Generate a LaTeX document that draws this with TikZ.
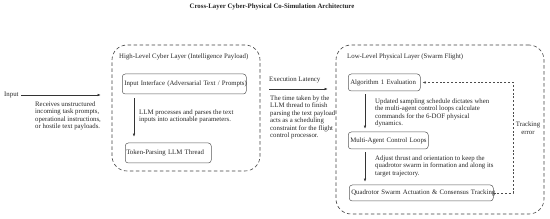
\documentclass[tikz,border=0pt]{standalone}
\usepackage{fontspec}
\setmainfont{Liberation Serif}
\usetikzlibrary{arrows.meta}
\begin{document}
\begin{tikzpicture}[x=1pt,y=-1pt,
  every node/.style={font=\fontsize{6.8}{7.5}\selectfont, text=black!85},
  layer/.style={draw=black!75, line width=0.6pt, dash pattern=on 3.5pt off 2.5pt, rounded corners=15pt, inner sep=0pt},
  stepbox/.style={draw=black!65, line width=0.5pt, rounded corners=3pt, inner xsep=2pt, inner ysep=0pt, align=left, anchor=west},
  txt/.style={inner sep=0pt, align=left, anchor=north west},
  arr/.style={draw=black!80, line width=0.5pt, -{Latex[length=3pt,width=2.4pt]}},
  fb/.style={draw=black!70, line width=0.5pt, dash pattern=on 2pt off 1.8pt, -{Latex[length=3pt,width=2.4pt]}}]
\useasboundingbox (0,0) rectangle (550,219);
\node[font=\fontsize{6.8}{8}\selectfont\bfseries] (title) at (272,7) {Cross-Layer Cyber-Physical Co-Simulation Architecture};
% containers
\node[layer, minimum width=148pt, minimum height=126pt] (cyber) at (186,108) {};
\node[layer, minimum width=208pt, minimum height=169pt] (phys) at (440,129.5) {};
\node[inner sep=0pt, anchor=west] (cyberlbl) at (119,57) {High-Level Cyber Layer (Intelligence Payload)};
\node[inner sep=0pt, anchor=west] (physlbl) at (347,57) {Low-Level Physical Layer (Swarm Flight)};
% input
\node[inner sep=0pt, anchor=west] (input) at (4,95) {Input};
\node[txt] (inputdesc) at (35,101.5) {Receives unstructured\\incoming task prompts,\\operational instructions,\\or hostile text payloads.};
\draw[arr, shorten <=2pt, shorten >=11pt] (input.east) -- (input.east -| cyber.west);
% cyber layer
\node[stepbox, text width=120pt, minimum height=20pt] (inp) at (122,84) {\mbox{Input Interface (Adversarial Text / Prompts)}};
\node[stepbox, text width=84pt, inner xsep=1pt, minimum height=20pt] (tok) at (125,153) {\mbox{Token-Parsing LLM Thread}};
\coordinate (a1) at ([xshift=12pt]inp.south west);
\draw[arr, shorten <=4pt, shorten >=6pt] (a1) -- (a1 |- tok.north);
\node[txt] (llmdesc) at (139,109.5) {LLM processes and parses the text\\inputs into actionable parameters.};
% latency
\coordinate (latY) at (300,89);
\draw[arr, shorten <=9pt, shorten >=8pt] (cyber.east |- latY) -- (phys.west |- latY);
\node[inner sep=0pt, anchor=west] (latlbl) at (269,80) {Execution Latency};
\node[txt] (latdesc) at (270,95.5) {The time taken by the\\LLM thread to finish\\parsing the text payload\\acts as a scheduling\\constraint for the flight\\control processor.};
% physical layer
\node[stepbox, text width=68pt, minimum height=17pt] (alg) at (348,82.5) {\mbox{Algorithm 1 Evaluation}};
\node[stepbox, text width=76pt, minimum height=17pt] (mac) at (348,140.5) {\mbox{Multi-Agent Control Loops}};
\node[stepbox, text width=140pt, minimum height=16pt] (quad) at (349,193) {\mbox{Quadrotor Swarm Actuation \& Consensus Tracking}};
\coordinate (b1) at ([xshift=17pt]alg.south west);
\draw[arr, shorten <=3pt, shorten >=3pt] (b1) -- (b1 |- mac.north);
\coordinate (b2) at ([xshift=17pt]mac.south west);
\draw[arr, shorten <=3pt, shorten >=3pt] (b2) -- (b2 |- quad.north);
\node[txt] (upddesc) at (375,98.5) {Updated sampling schedule dictates when\\the multi-agent control loops calculate\\commands for the 6-DOF physical\\dynamics.};
\node[txt] (adjdesc) at (375,155.5) {Adjust thrust and orientation to keep the\\quadrotor swarm in formation and along its\\target trajectory.};
% tracking error feedback
\coordinate (trk) at (513,128);
\draw[fb, shorten >=2pt] (quad.east) -| (trk |- alg.east) -- (alg.east);
\node[inner sep=0pt, align=center] (trklbl) at (528,128) {Tracking\\error};
\end{tikzpicture}
\end{document}
